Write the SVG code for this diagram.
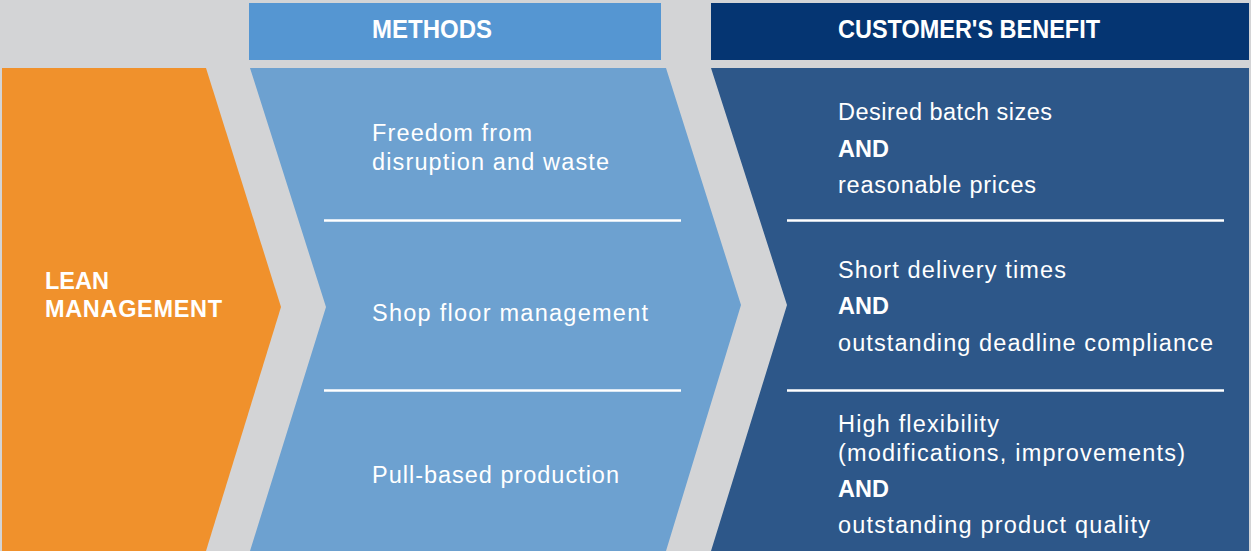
<svg xmlns="http://www.w3.org/2000/svg" width="1251" height="551" viewBox="0 0 1251 551">
<style>
.t{font-family:"Liberation Sans",Arial,sans-serif;fill:#ffffff;font-size:23.5px}
.b{font-weight:bold}
.h{font-family:"Liberation Sans",Arial,sans-serif;fill:#ffffff;font-size:25px;font-weight:bold}
.sep{stroke:#ffffff;stroke-width:2.5}
</style>
<rect x="0" y="0" width="1251" height="551" fill="#d3d4d6"/>
<g id="header-methods">
<rect x="249" y="3" width="412" height="57" fill="#5596d2"/>
<text class="h" x="372" y="38" textLength="120" lengthAdjust="spacingAndGlyphs">METHODS</text>
</g>
<g id="header-benefit">
<rect x="711" y="3" width="538" height="57" fill="#053572"/>
<text class="h" x="838" y="38" textLength="262" lengthAdjust="spacingAndGlyphs">CUSTOMER'S BENEFIT</text>
</g>
<g id="lean">
<polygon points="2,68 206,68 281,307 206,551 2,551" fill="#f0912c"/>
<text class="t b" x="45" y="289" font-size="24">LEAN</text>
<text class="t b" x="45" y="317" font-size="24" textLength="177" lengthAdjust="spacing">MANAGEMENT</text>
</g>
<g id="methods">
<polygon points="250,68 666,68 741,305 666,551 250,551 326,307" fill="#6da1d0"/>
<line class="sep" x1="324" y1="220.5" x2="681" y2="220.5"/>
<line class="sep" x1="324" y1="390.5" x2="681" y2="390.5"/>
<text class="t" x="372" y="141" textLength="160" lengthAdjust="spacing">Freedom from</text>
<text class="t" x="372" y="170" textLength="237" lengthAdjust="spacing">disruption and waste</text>
<text class="t" x="372" y="321" textLength="276" lengthAdjust="spacing">Shop floor management</text>
<text class="t" x="372" y="483" textLength="247" lengthAdjust="spacing">Pull-based production</text>
</g>
<g id="benefit">
<polygon points="711,68 1249,68 1249,551 711,551 787,305" fill="#2d5789"/>
<line class="sep" x1="787" y1="220.5" x2="1224" y2="220.5"/>
<line class="sep" x1="787" y1="390.5" x2="1224" y2="390.5"/>
<text class="t" x="838" y="120" textLength="214" lengthAdjust="spacing">Desired batch sizes</text>
<text class="t b" x="838" y="157" textLength="51" lengthAdjust="spacing">AND</text>
<text class="t" x="838" y="193" textLength="198" lengthAdjust="spacing">reasonable prices</text>
<text class="t" x="838" y="278" textLength="228" lengthAdjust="spacing">Short delivery times</text>
<text class="t b" x="838" y="314" textLength="51" lengthAdjust="spacing">AND</text>
<text class="t" x="838" y="351" textLength="375" lengthAdjust="spacing">outstanding deadline compliance</text>
<text class="t" x="838" y="432" textLength="161" lengthAdjust="spacing">High flexibility</text>
<text class="t" x="838" y="461" textLength="347" lengthAdjust="spacing">(modifications, improvements)</text>
<text class="t b" x="838" y="497" textLength="51" lengthAdjust="spacing">AND</text>
<text class="t" x="838" y="533" textLength="312" lengthAdjust="spacing">outstanding product quality</text>
</g>
</svg>
